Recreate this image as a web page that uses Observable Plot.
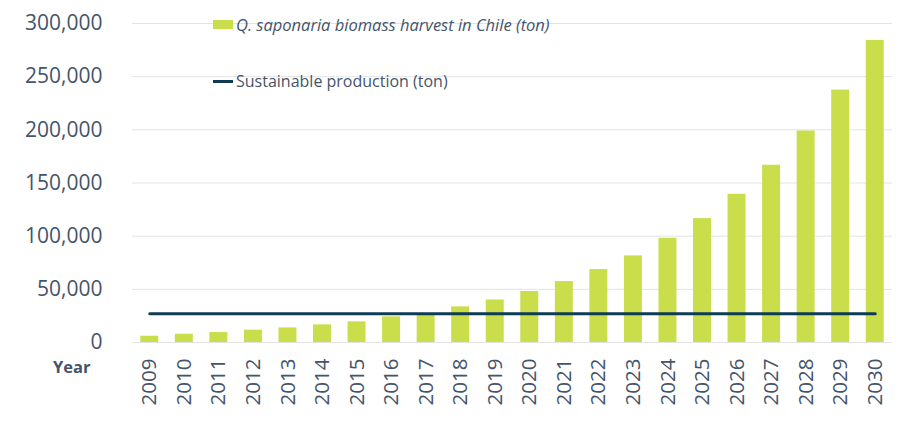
<!DOCTYPE html>
<html>
<head>
<meta charset="utf-8">
<script src="https://cdn.jsdelivr.net/npm/d3@7"></script>
<script src="https://cdn.jsdelivr.net/npm/@observablehq/plot@0.6"></script>
<style>
  html, body { margin: 0; padding: 0; background: #fff; }
  #chart { position: relative; width: 900px; height: 432px; font-family: "Open Sans", sans-serif; }
  .legend { position: absolute; left: 213px; color: #44546a; font-size: 16px; display: flex; align-items: center; white-space: nowrap; }
  .legend i { font-size: 16.5px; }
  .legend .sw { display: inline-block; width: 20px; margin-right: 3px; }
  .year { position: absolute; left: 53px; top: 355px; font-size: 16.5px; font-weight: 700; color: #44546a; }
</style>
</head>
<body>
<div id="chart"></div>
<script>
// Annual Q. saponaria biomass harvest in Chile (tons), 2009–2030
const years = ["2009","2010","2011","2012","2013","2014","2015","2016","2017","2018","2019",
               "2020","2021","2022","2023","2024","2025","2026","2027","2028","2029","2030"];
const harvest = [5900, 7800, 9400, 11600, 13700, 16600, 19400, 24100, 26000, 33500, 40000,
                 48000, 57300, 68600, 81400, 98000, 116500, 139400, 166700, 198900, 237400, 284100];
// Sustainable production level (tons per year)
const sustainable = 27000;
const yTicks = [0, 50000, 100000, 150000, 200000, 250000, 300000];

const barColor = "#cadd4a";
const lineColor = "#0f3b54";
const textColor = "#44546a";

const rows = years.map((year, i) => ({year, harvest: harvest[i], sustainable}));

const plot = Plot.plot({
  width: 900,
  height: 432,
  marginLeft: 132,
  marginRight: 8,
  marginTop: 23,
  marginBottom: 90,
  style: {fontFamily: "Open Sans, sans-serif", color: textColor, background: "transparent"},
  x: {domain: years, paddingInner: 0.48, paddingOuter: 0.24, round: false, label: null},
  y: {domain: [0, 300000], label: null},
  marks: [
    Plot.gridY(yTicks, {stroke: "#e3e3e3", strokeOpacity: 1, strokeWidth: 1}),
    Plot.barY(rows, {x: "year", y: "harvest", fill: barColor}),
    Plot.lineY(rows, {x: "year", y: "sustainable", stroke: lineColor, strokeWidth: 3}),
    Plot.axisY(yTicks, {tickSize: 0, tickPadding: 30, tickFormat: d3.format(","), fontSize: 21, fill: textColor, label: null}),
    Plot.axisX({tickSize: 0, tickPadding: 16, tickRotate: -90, fontSize: 20.5, fill: textColor, label: null})
  ]
});

const chart = document.getElementById("chart");
chart.appendChild(plot);

// Legend and axis caption placed over the plot area
const leg1 = document.createElement("div");
leg1.className = "legend";
leg1.style.top = "13px";
leg1.innerHTML = `<span class="sw" style="height:9px;background:${barColor}"></span><i>Q. saponaria biomass harvest in Chile (ton)</i>`;
chart.appendChild(leg1);

const leg2 = document.createElement("div");
leg2.className = "legend";
leg2.style.top = "70px";
leg2.innerHTML = `<span class="sw" style="height:3px;background:${lineColor}"></span>Sustainable production (ton)`;
chart.appendChild(leg2);

const yearLabel = document.createElement("div");
yearLabel.className = "year";
yearLabel.textContent = "Year";
chart.appendChild(yearLabel);
</script>
</body>
</html>
